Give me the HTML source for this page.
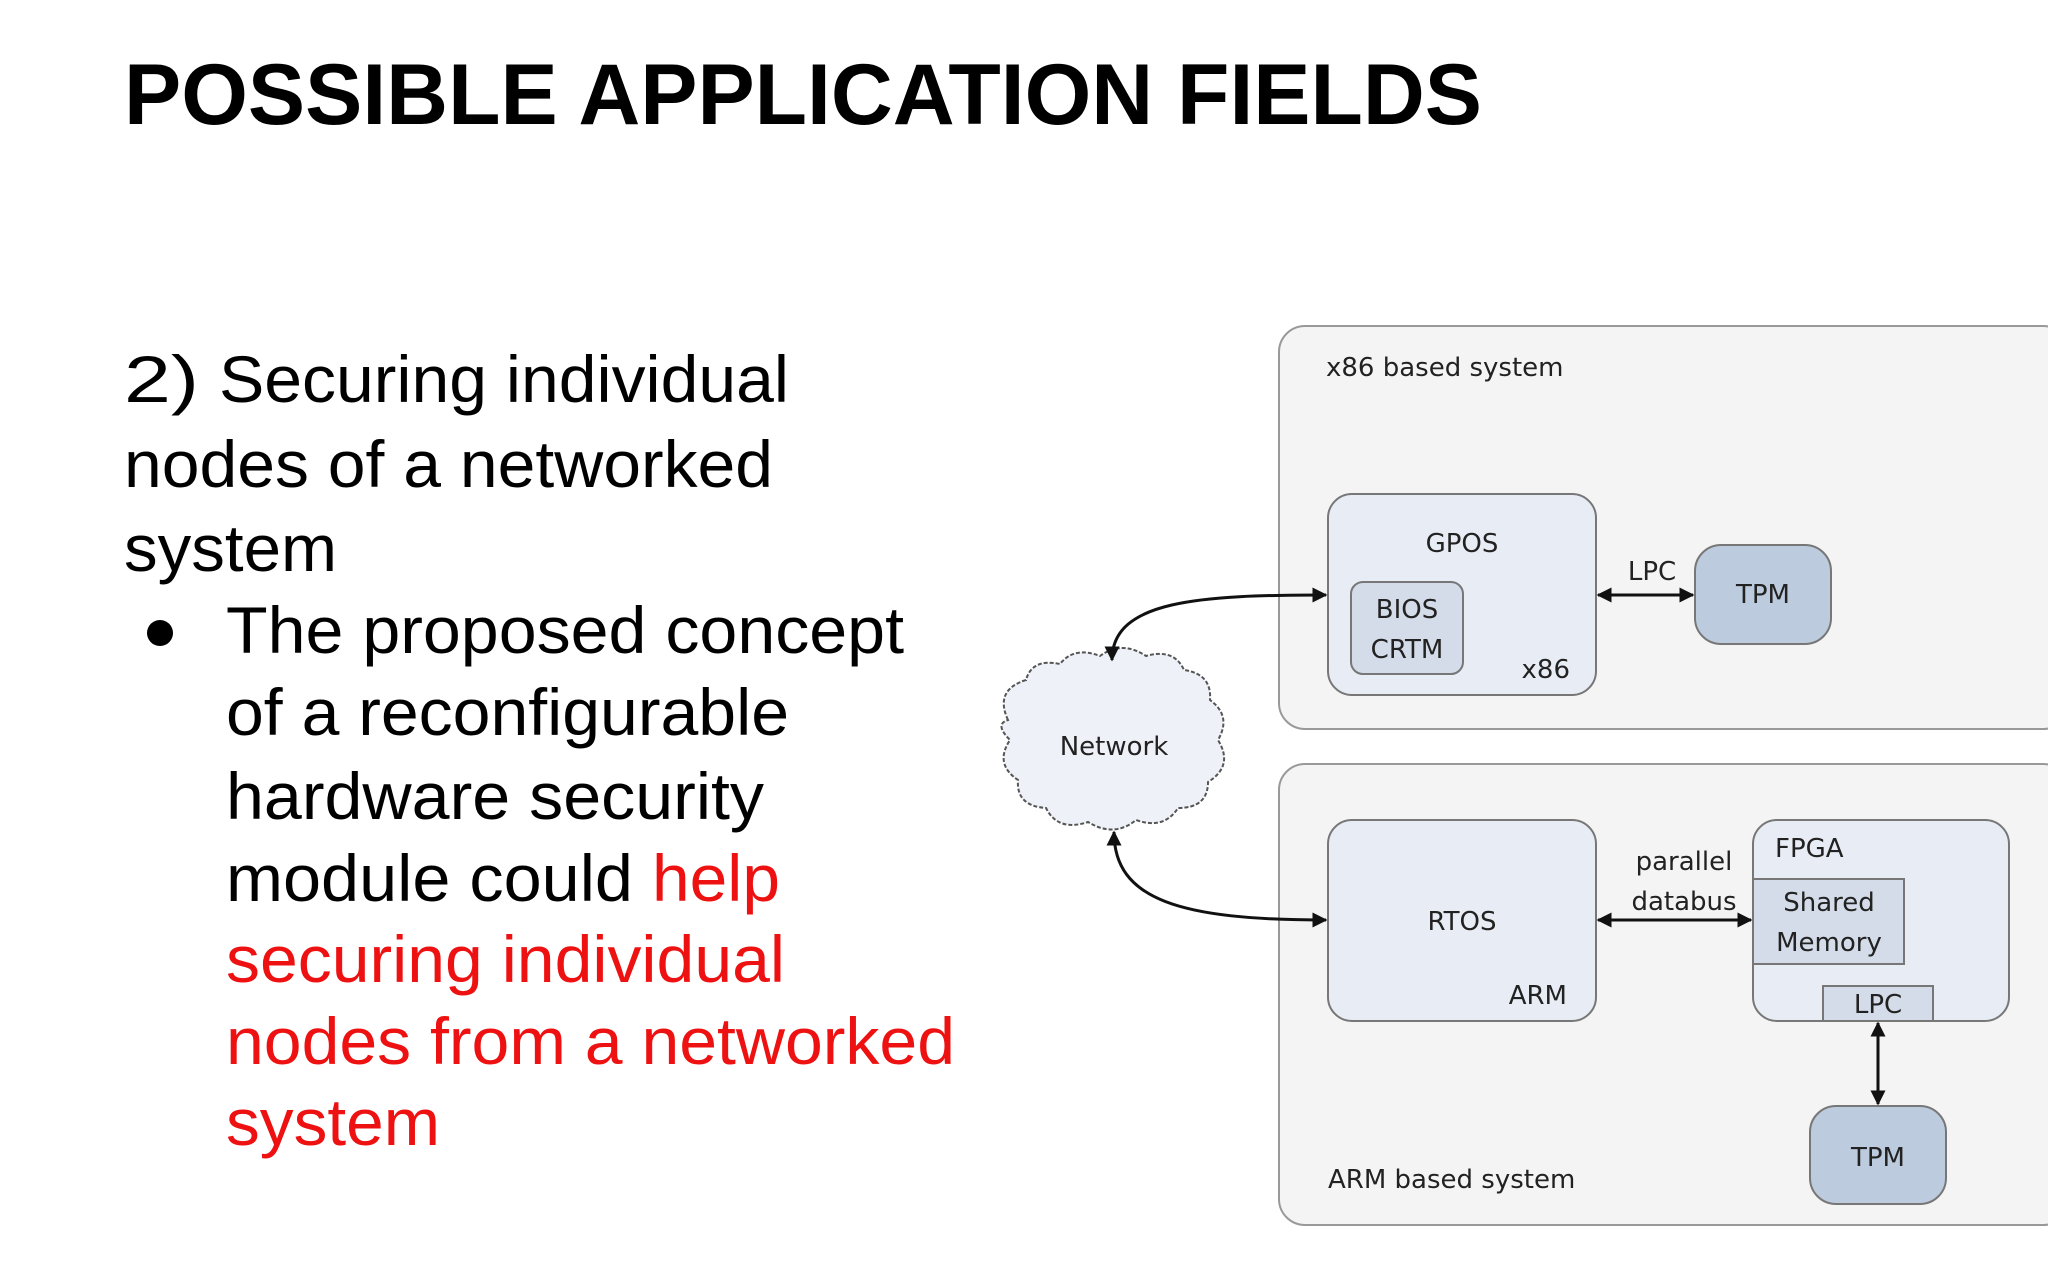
<!DOCTYPE html>
<html><head><meta charset="utf-8"><style>
html,body{margin:0;padding:0;background:#fff;}
svg{display:block;}
.t{font-family:"Liberation Sans",Arial,sans-serif;font-size:66px;fill:#000;}
.r{fill:#ee1111;}
.d{font-family:"DejaVu Sans","Liberation Sans",sans-serif;font-size:26px;fill:#222;}
</style></head><body>
<svg width="2048" height="1280" viewBox="0 0 2048 1280" xmlns="http://www.w3.org/2000/svg">
<defs>
<marker id="a" viewBox="0 0 10 10" refX="9" refY="5" markerWidth="5" markerHeight="5" orient="auto-start-reverse"><path d="M0,0 L10,5 L0,10 z" fill="#111"/></marker>
</defs>
<rect width="2048" height="1280" fill="#fff"/>
<text x="124" y="124" font-family="Liberation Sans,Arial,sans-serif" font-weight="bold" font-size="86" textLength="1358" lengthAdjust="spacingAndGlyphs">POSSIBLE APPLICATION FIELDS</text>

<text class="t" x="124" y="402" font-size="96" textLength="75" lengthAdjust="spacingAndGlyphs">2)</text>
<text class="t" x="219" y="402" textLength="570" lengthAdjust="spacingAndGlyphs">Securing individual</text>
<text class="t" x="124" y="487" textLength="649" lengthAdjust="spacingAndGlyphs">nodes of a networked</text>
<text class="t" x="124" y="571" textLength="213" lengthAdjust="spacingAndGlyphs">system</text>
<circle cx="160" cy="633" r="13" fill="#000"/>
<text class="t" x="226" y="653" textLength="678" lengthAdjust="spacingAndGlyphs">The proposed concept</text>
<text class="t" x="226" y="735" textLength="563" lengthAdjust="spacingAndGlyphs">of a reconfigurable</text>
<text class="t" x="226" y="819" textLength="538" lengthAdjust="spacingAndGlyphs">hardware security</text>
<text class="t" x="226" y="901" textLength="407" lengthAdjust="spacingAndGlyphs">module could</text>
<text class="t r" x="652" y="901" textLength="128" lengthAdjust="spacingAndGlyphs">help</text>
<text class="t r" x="226" y="982" textLength="559" lengthAdjust="spacingAndGlyphs">securing individual</text>
<text class="t r" x="226" y="1064" textLength="729" lengthAdjust="spacingAndGlyphs">nodes from a networked</text>
<text class="t r" x="226" y="1145" textLength="214" lengthAdjust="spacingAndGlyphs">system</text>

<rect x="1279" y="326" width="790" height="403" rx="26" fill="#f4f4f5" stroke="#999" stroke-width="2"/>
<rect x="1279" y="764" width="790" height="461" rx="26" fill="#f4f4f5" stroke="#999" stroke-width="2"/>
<text class="d" x="1326" y="376">x86 based system</text>
<text class="d" x="1328" y="1188">ARM based system</text>

<rect x="1328" y="494" width="268" height="201" rx="24" fill="#e8edf5" stroke="#777" stroke-width="2"/>
<text class="d" x="1462" y="552" text-anchor="middle">GPOS</text>
<rect x="1351" y="582" width="112" height="92" rx="12" fill="#d3dce8" stroke="#777" stroke-width="2"/>
<text class="d" x="1407" y="618" text-anchor="middle">BIOS</text>
<text class="d" x="1407" y="658" text-anchor="middle">CRTM</text>
<text class="d" x="1570" y="678" text-anchor="end">x86</text>

<rect x="1695" y="545" width="136" height="99" rx="26" fill="#bccbdd" stroke="#777" stroke-width="2"/>
<text class="d" x="1763" y="603" text-anchor="middle">TPM</text>
<text class="d" x="1652" y="580" text-anchor="middle">LPC</text>
<line x1="1598" y1="595" x2="1693" y2="595" stroke="#111" stroke-width="3" marker-start="url(#a)" marker-end="url(#a)"/>

<rect x="1328" y="820" width="268" height="201" rx="24" fill="#e8edf5" stroke="#777" stroke-width="2"/>
<text class="d" x="1462" y="930" text-anchor="middle">RTOS</text>
<text class="d" x="1567" y="1004" text-anchor="end">ARM</text>

<rect x="1753" y="820" width="256" height="201" rx="24" fill="#e8edf5" stroke="#777" stroke-width="2"/>
<text class="d" x="1775" y="857">FPGA</text>
<rect x="1753" y="879" width="151" height="85" fill="#d3dce8" stroke="#777" stroke-width="2"/>
<text class="d" x="1829" y="911" text-anchor="middle">Shared</text>
<text class="d" x="1829" y="951" text-anchor="middle">Memory</text>
<rect x="1823" y="986" width="110" height="35" fill="#d3dce8" stroke="#777" stroke-width="2"/>
<text class="d" x="1878" y="1013" text-anchor="middle">LPC</text>
<text class="d" x="1684" y="870" text-anchor="middle">parallel</text>
<text class="d" x="1684" y="910" text-anchor="middle">databus</text>
<line x1="1598" y1="920" x2="1751" y2="920" stroke="#111" stroke-width="3" marker-start="url(#a)" marker-end="url(#a)"/>

<rect x="1810" y="1106" width="136" height="98" rx="26" fill="#bccbdd" stroke="#777" stroke-width="2"/>
<text class="d" x="1878" y="1166" text-anchor="middle">TPM</text>
<line x1="1878" y1="1023" x2="1878" y2="1104" stroke="#111" stroke-width="3" marker-start="url(#a)" marker-end="url(#a)"/>

<path d="M1008,720 q-14,-30 18,-40 q6,-22 34,-16 q14,-18 40,-8 q22,-16 46,0 q28,-8 38,14 q28,4 26,30 q22,16 8,40 q16,26 -10,42 q0,26 -30,26 q-14,22 -42,12 q-22,18 -48,2 q-30,10 -42,-14 q-30,-2 -28,-28 q-24,-16 -8,-40 q-16,-16 -2,-20 z" fill="#eef1f7" stroke="#555" stroke-width="2" stroke-dasharray="4,2"/>
<text class="d" x="1114" y="755" text-anchor="middle">Network</text>

<path d="M1112,660 C1112,600 1200,595 1326,595" fill="none" stroke="#111" stroke-width="3" marker-start="url(#a)" marker-end="url(#a)"/>
<path d="M1114,832 C1114,900 1180,920 1326,920" fill="none" stroke="#111" stroke-width="3" marker-start="url(#a)" marker-end="url(#a)"/>
</svg>
</body></html>
